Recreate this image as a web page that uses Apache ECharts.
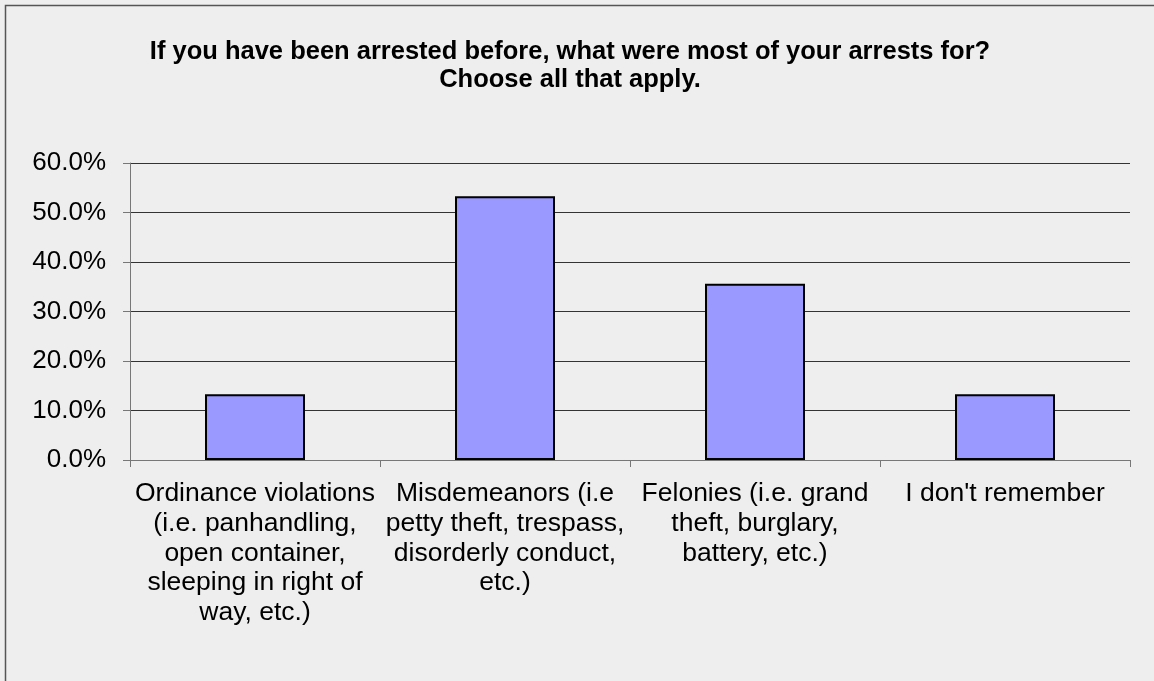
<!DOCTYPE html>
<html>
<head>
<meta charset="utf-8">
<script src="https://cdn.jsdelivr.net/npm/echarts@6/dist/echarts.min.js"></script>
<style>
  html, body { margin: 0; padding: 0; background: #eeeeee; }
  #chart { width: 1154px; height: 681px; }
</style>
</head>
<body>
<div id="chart"></div>
<script>
  // categories and values
  const categories = [
    'Ordinance violations\n(i.e. panhandling,\nopen container,\nsleeping in right of\nway, etc.)',
    'Misdemeanors (i.e\npetty theft, trespass,\ndisorderly conduct,\netc.)',
    'Felonies (i.e. grand\ntheft, burglary,\nbattery, etc.)',
    "I don't remember"
  ]
  const shares = [13.3, 53.3, 35.6, 13.3]
  const yTicks = [0, 10, 20, 30, 40, 50, 60]

  const font = '"Liberation Sans", Arial, sans-serif'
  let myChart = echarts.init(document.getElementById('chart'))
  let option = {
    backgroundColor: '#eeeeee',
    animation: false,
    title: {
      text: 'If you have been arrested before, what were most of your arrests for?\nChoose all that apply.',
      left: 565,
      top: 33,
      textAlign: 'center',
      textStyle: {
        fontFamily: font,
        fontSize: 25.5,
        fontWeight: 'bold',
        color: '#000',
        lineHeight: 28
      }
    },
    graphic: [{
      type: 'rect',
      shape: { x: 5.5, y: 5.5, width: 1300, height: 800 },
      style: { fill: 'none', stroke: '#555', lineWidth: 1.5 },
      silent: true
    }],
    grid: {
      left: 130,
      right: 24,
      top: 163,
      height: 297,
      containLabel: false
    },
    xAxis: {
      type: 'category',
      data: categories,
      axisLine: { lineStyle: { color: '#777', width: 1 } },
      axisTick: { show: true, length: 7, lineStyle: { color: '#777' } },
      axisLabel: {
        interval: 0,
        margin: 19,
        fontFamily: font,
        fontSize: 26.5,
        lineHeight: 29.75,
        color: '#000',
        align: 'center'
      }
    },
    yAxis: {
      type: 'value',
      min: yTicks[0],
      max: yTicks[yTicks.length - 1],
      interval: 10,
      axisLine: { show: true, lineStyle: { color: '#777', width: 1 } },
      axisTick: { show: true, length: 7, lineStyle: { color: '#777' } },
      splitLine: { lineStyle: { color: '#333', width: 1 } },
      axisLabel: {
        margin: 24,
        fontFamily: font,
        fontSize: 26,
        color: '#000',
        formatter: function (v) { return v.toFixed(1) + '%' }
      }
    },
    series: [{
      type: 'bar',
      data: shares,
      barWidth: '40%',
      itemStyle: {
        color: '#9999ff',
        borderColor: '#000',
        borderWidth: 2
      }
    }]
  }
  myChart.setOption(option)
</script>
</body>
</html>
